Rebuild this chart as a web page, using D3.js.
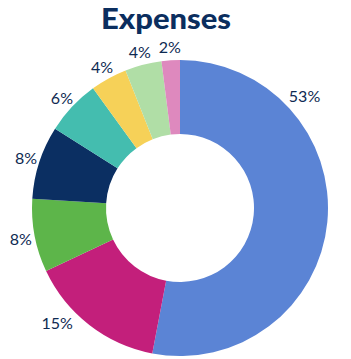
<!DOCTYPE html>
<html>
<head>
<meta charset="utf-8">
<script src="https://cdn.jsdelivr.net/npm/d3@7"></script>
<style>
  body { margin: 0; background: #fff; }
  text { font-family: Lato, "Open Sans", sans-serif; }
</style>
</head>
<body>
<div id="chart"></div>
<script>
// Expense shares, clockwise from 12 o'clock
const categories = ['A', 'B', 'C', 'D', 'E', 'F', 'G', 'H'];
const shares = [53, 15, 8, 8, 6, 4, 4, 2];
const colors = ['#5b84d5', '#c31f7b', '#5db54a', '#0b2f62', '#44bdaf', '#f6d158', '#b0dea6', '#de89be'];

const width = 351, height = 359;
const cx = 180, cy = 208;
const outerR = 148, innerR = 74;

const svg = d3.select('#chart')
    .append('svg')
    .attr('width', width)
    .attr('height', height);

svg.append('text')
    .attr('x', 166)
    .attr('y', 29)
    .attr('text-anchor', 'middle')
    .attr('font-size', 28)
    .attr('font-weight', 900)
    .attr('fill', '#0b2e5e')
    .attr('textLength', 130)
    .attr('lengthAdjust', 'spacingAndGlyphs')
    .text('Expenses');

const pie = d3.pie().sort(null).value(d => d)(shares);
const arc = d3.arc().innerRadius(innerR).outerRadius(outerR);

const g = svg.append('g')
    .attr('transform', 'translate(' + cx + ',' + cy + ')');

g.selectAll('path')
    .data(pie)
    .enter()
    .append('path')
    .attr('d', arc)
    .attr('fill', (d, i) => colors[i]);

// labels sit outside the ring; the two big ones were nudged in the original
const labelShift = { 0: -0.83, 1: 0.16 };
const labelR = 162;

g.selectAll('.lbl')
    .data(pie)
    .enter()
    .append('text')
    .attr('class', 'lbl')
    .attr('text-anchor', 'middle')
    .attr('dominant-baseline', 'central')
    .attr('font-size', 16)
    .attr('fill', '#0e2a52')
    .attr('x', (d, i) => {
        const a = (d.startAngle + d.endAngle) / 2 + (labelShift[i] || 0);
        return Math.sin(a) * (labelR + (i < 2 ? 6 : 0));
    })
    .attr('y', (d, i) => {
        const a = (d.startAngle + d.endAngle) / 2 + (labelShift[i] || 0);
        return -Math.cos(a) * (labelR + (i < 2 ? 6 : 0));
    })
    .text(d => d.data + '%');
</script>
</body>
</html>
